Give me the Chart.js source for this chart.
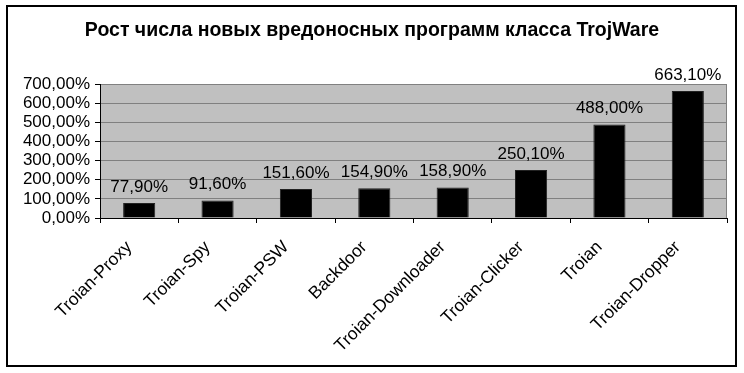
<!DOCTYPE html>
<html>
<head>
<meta charset="utf-8">
<script src="https://cdn.jsdelivr.net/npm/chart.js@4"></script>
<style>
  body { margin: 0; background: #fff; }
  #wrap { width: 744px; height: 373px; }
</style>
</head>
<body>
<div id="wrap"><canvas id="trojChart" width="744" height="373"></canvas></div>
<script>
const chartTitle = "Рост числа новых вредоносных программ класса TrojWare";
const categories = ["Troian-Proxy", "Troian-Spy", "Troian-PSW", "Backdoor",
    "Troian-Downloader", "Troian-Clicker", "Troian", "Troian-Dropper"];
const growth = [77.9, 91.6, 151.6, 154.9, 158.9, 250.1, 488.0, 663.1];
const yMax = 700;
const yStep = 100;

function pct(v) {
    return v.toFixed(2).replace(".", ",") + "%";
}

// frame, title, grey plot area
const backdrop = {
    id: "backdrop",
    beforeDraw(chart) {
        const ctx = chart.ctx;
        const a = chart.chartArea;
        ctx.save();
        ctx.fillStyle = "#fff";
        ctx.fillRect(0, 0, chart.width, chart.height);
        ctx.strokeStyle = "#000";
        ctx.lineWidth = 2;
        ctx.strokeRect(7, 6, 729, 360);
        ctx.fillStyle = "#c0c0c0";
        ctx.fillRect(a.left, a.top, a.right - a.left, a.bottom - a.top);
        ctx.fillStyle = "#000";
        ctx.font = "bold 19.5px 'Liberation Sans', Arial, sans-serif";
        ctx.textAlign = "center";
        ctx.textBaseline = "middle";
        ctx.fillText(chartTitle, 372, 31);
        ctx.restore();
    },
    beforeDatasetsDraw(chart) {
        const ctx = chart.ctx;
        const a = chart.chartArea;
        ctx.save();
        ctx.strokeStyle = "#808080";
        ctx.lineWidth = 1;
        ctx.beginPath();
        ctx.moveTo(Math.round(a.right) - 0.5, a.top);
        ctx.lineTo(Math.round(a.right) - 0.5, a.bottom);
        ctx.stroke();
        ctx.restore();
    }
};

// value labels above the bars
const valueLabels = {
    id: "valueLabels",
    afterDatasetsDraw(chart) {
        const ctx = chart.ctx;
        const meta = chart.getDatasetMeta(0);
        ctx.save();
        ctx.fillStyle = "#000";
        ctx.font = "17px 'Liberation Sans', Arial, sans-serif";
        ctx.textAlign = "center";
        ctx.textBaseline = "middle";
        meta.data.forEach((bar, i) => {
            ctx.fillText(pct(growth[i]), bar.x, bar.y - 16);
        });
        ctx.restore();
    }
};

new Chart(document.getElementById("trojChart"), {
    type: "bar",
    data: {
        labels: categories,
        datasets: [{
            data: growth,
            backgroundColor: "#000",
            borderColor: "#222",
            borderWidth: 1,
            categoryPercentage: 1,
            barPercentage: 0.41
        }]
    },
    options: {
        responsive: false,
        animation: false,
        devicePixelRatio: 1,
        layout: { padding: { left: 0, right: 17, top: 84, bottom: 0 } },
        plugins: {
            legend: { display: false },
            title: { display: false },
            tooltip: { enabled: false }
        },
        scales: {
            x: {
                grid: { drawOnChartArea: false, drawTicks: true, tickLength: 5, tickColor: "#000" },
                border: { color: "#000", width: 1 },
                ticks: {
                    color: "#000",
                    font: { family: "'Liberation Sans', Arial, sans-serif", size: 17.5 },
                    minRotation: 45,
                    maxRotation: 45,
                    autoSkip: false,
                    padding: 14,
                    labelOffset: -10
                },
                afterFit(scale) { scale.height = 155; }
            },
            y: {
                min: 0,
                max: yMax,
                grid: { color: "#808080", tickLength: 5, tickColor: "#000" },
                border: { color: "#000", width: 1 },
                ticks: {
                    stepSize: yStep,
                    autoSkip: false,
                    color: "#000",
                    padding: 5,
                    font: { family: "'Liberation Sans', Arial, sans-serif", size: 17, lineHeight: 1 },
                    callback: (v) => pct(v)
                },
                afterFit(scale) { scale.width = 100; }
            }
        }
    },
    plugins: [backdrop, valueLabels]
});
</script>
</body>
</html>
